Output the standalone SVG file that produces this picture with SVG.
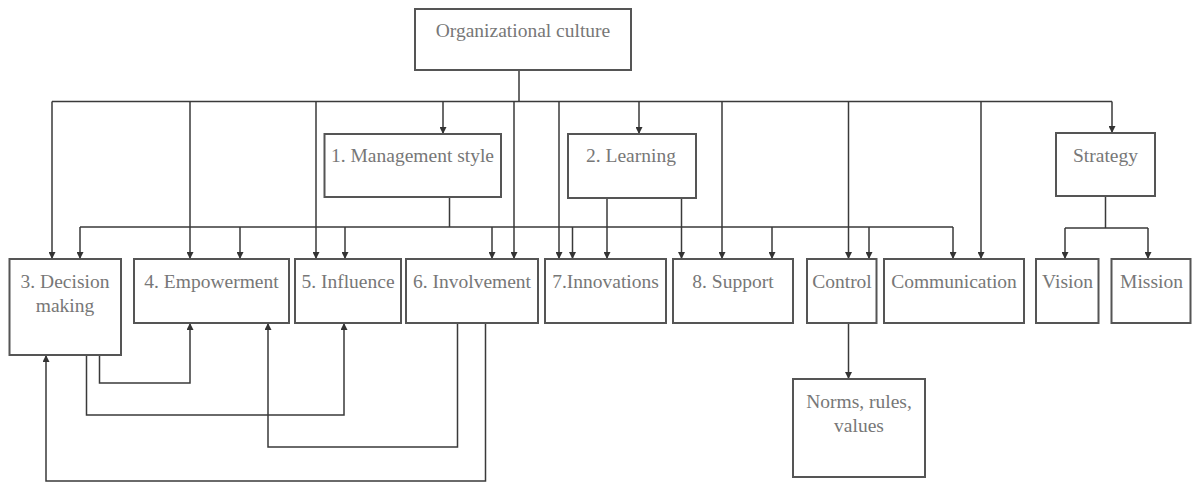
<svg xmlns="http://www.w3.org/2000/svg" width="1193" height="483" viewBox="0 0 1193 483">
<defs>
<marker id="ah" viewBox="0 0 10 10" refX="10" refY="5" markerWidth="7" markerHeight="7" markerUnits="userSpaceOnUse" orient="auto">
<path d="M0,0 L10,5 L0,10 Z" fill="#333"/>
</marker>
<style>
.box{fill:#fff;stroke:#555;stroke-width:2}
.lbl{font-family:"Liberation Serif","Times New Roman",serif;font-size:19.5px;fill:#777;text-anchor:middle}
.ln{fill:none;stroke:#3a3a3a;stroke-width:1.5}
.ar{fill:none;stroke:#3a3a3a;stroke-width:1.5;marker-end:url(#ah)}
</style>
</defs>
<rect width="1193" height="483" fill="#fff"/>
<g id="connectors">
<!-- top bus -->
<path class="ln" d="M519,70 V101.5 M52,101.5 H1112"/>
<path class="ar" d="M52,101.5 V259"/>
<path class="ar" d="M190,101.5 V259"/>
<path class="ar" d="M316,101.5 V259"/>
<path class="ar" d="M443,101.5 V134"/>
<path class="ar" d="M514,101.5 V259"/>
<path class="ar" d="M559,101.5 V259"/>
<path class="ar" d="M639,101.5 V134"/>
<path class="ar" d="M722,101.5 V259"/>
<path class="ar" d="M848.5,101.5 V259"/>
<path class="ar" d="M981,101.5 V259"/>
<path class="ar" d="M1112,101.5 V133"/>
<!-- second bus -->
<path class="ln" d="M449.5,197 V227 M80,227 H953"/>
<path class="ar" d="M80,227 V259"/>
<path class="ar" d="M240,227 V259"/>
<path class="ar" d="M345,227 V259"/>
<path class="ar" d="M492,227 V259"/>
<path class="ar" d="M572.5,227 V259"/>
<path class="ar" d="M772,227 V259"/>
<path class="ar" d="M869,227 V259"/>
<path class="ar" d="M953,227 V259"/>
<!-- learning stems -->
<path class="ar" d="M607,198 V259"/>
<path class="ar" d="M681.5,198 V259"/>
<!-- strategy -->
<path class="ln" d="M1105.5,196 V228 M1065,228 H1148"/>
<path class="ar" d="M1065,228 V259"/>
<path class="ar" d="M1148,228 V259"/>
<!-- control to norms -->
<path class="ar" d="M848.5,323 V379"/>
<!-- feedback loops -->
<path class="ar" d="M99.5,355 V383 H190 V323"/>
<path class="ar" d="M86.5,355 V415 H344 V323"/>
<path class="ar" d="M457.5,323 V447 H268 V323"/>
<path class="ar" d="M485.5,323 V481 H46 V355"/>
</g>
<g id="org-culture"><rect class="box" x="415" y="9" width="216" height="61"/><text class="lbl" x="523" y="37">Organizational culture</text></g>
<g id="management-style"><rect class="box" x="324.5" y="134" width="176.5" height="63"/><text class="lbl" x="412.5" y="162">1. Management style</text></g>
<g id="learning"><rect class="box" x="568" y="134" width="128" height="64"/><text class="lbl" x="631" y="162">2. Learning</text></g>
<g id="strategy"><rect class="box" x="1056" y="133" width="99" height="63"/><text class="lbl" x="1105.5" y="162">Strategy</text></g>
<g id="decision-making"><rect class="box" x="9.5" y="259" width="111.5" height="96"/><text class="lbl" x="65" y="288">3. Decision</text><text class="lbl" x="65" y="311.5">making</text></g>
<g id="empowerment"><rect class="box" x="134" y="259" width="155" height="64"/><text class="lbl" x="211.5" y="288">4. Empowerment</text></g>
<g id="influence"><rect class="box" x="295" y="259" width="106" height="64"/><text class="lbl" x="348" y="288">5. Influence</text></g>
<g id="involvement"><rect class="box" x="406" y="259" width="132" height="64"/><text class="lbl" x="472" y="288">6. Involvement</text></g>
<g id="innovations"><rect class="box" x="545" y="259" width="121" height="64"/><text class="lbl" x="605.5" y="288">7.Innovations</text></g>
<g id="support"><rect class="box" x="673" y="259" width="120" height="64"/><text class="lbl" x="733" y="288">8. Support</text></g>
<g id="control"><rect class="box" x="807" y="259" width="69.5" height="64"/><text class="lbl" x="842" y="288">Control</text></g>
<g id="communication"><rect class="box" x="884" y="259" width="140" height="64"/><text class="lbl" x="954" y="288">Communication</text></g>
<g id="vision"><rect class="box" x="1036" y="259" width="62.5" height="64"/><text class="lbl" x="1067.5" y="288">Vision</text></g>
<g id="mission"><rect class="box" x="1111.5" y="259" width="79" height="64"/><text class="lbl" x="1151.5" y="288">Mission</text></g>
<g id="norms"><rect class="box" x="793" y="379" width="132" height="98"/><text class="lbl" x="859" y="408">Norms, rules,</text><text class="lbl" x="859" y="432">values</text></g>
</svg>
